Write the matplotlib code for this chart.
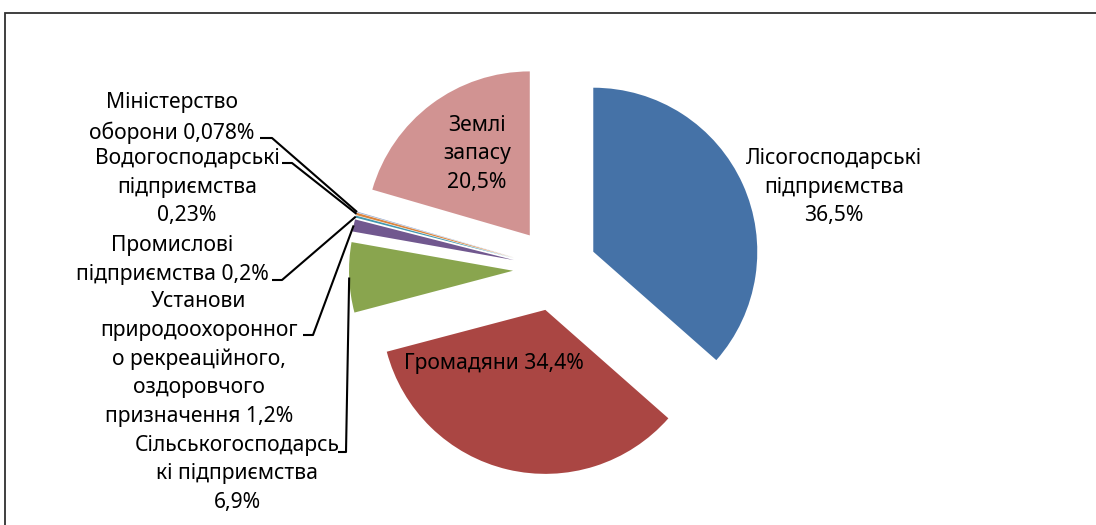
import numpy as np
import matplotlib
matplotlib.use("Agg")
import matplotlib.pyplot as plt
from matplotlib.patches import Rectangle

plt.rcParams['font.family'] = ['Noto Sans', 'DejaVu Sans']

# data
categories = ['Лісогосподарські\nпідприємства', 'Громадяни', 'Сільськогосподарсь\nкі підприємства',
              'Установи\nприродоохоронног\nо рекреаційного,\nоздоровчого\nпризначення',
              'Промислові\nпідприємства', 'Водогосподарські\nпідприємства',
              'Міністерство\nоборони', 'Землі\nзапасу']
shares = [36.5, 34.4, 6.9, 1.2, 0.2, 0.23, 0.078, 20.5]
share_text = ['36,5%', '34,4%', '6,9%', '1,2%', '0,2%', '0,23%', '0,078%', '20,5%']
colors = ['#4572A7', '#AA4643', '#89A54E', '#71588F', '#4198AF', '#DB843D', '#93A9CF', '#D19392']

# label text as shown on the chart
label_text = [
    'Лісогосподарські\nпідприємства\n36,5%',
    'Громадяни 34,4%',
    'Сільськогосподарсь\nкі підприємства\n6,9%',
    'Установи\nприродоохоронног\nо рекреаційного,\nоздоровчого\nпризначення 1,2%',
    'Промислові\nпідприємства 0,2%',
    'Водогосподарські\nпідприємства\n0,23%',
    'Міністерство\nоборони 0,078%',
    'Землі\nзапасу\n20,5%',
]

W, H = 1096, 525
fig = plt.figure(figsize=(W / 100, H / 100), dpi=100)
ax = fig.add_axes([0, 0, 1, 1])

# frame (chart area border, cut by the image edge)
fig.patches.append(Rectangle((5 / W, -0.1), 1.2, 1.1 - 13 / H, transform=fig.transFigure,
                             fill=False, edgecolor='#303030', lw=1.3))

cx, cy, R = 555, H - 269, 164
wedges, _ = ax.pie(shares, colors=colors, startangle=90, counterclock=False,
                   radius=R, center=(cx, cy), explode=[42] * len(shares),
                   wedgeprops=dict(linewidth=0), frame=True)
ax.set_xlim(0, W)
ax.set_ylim(0, H)
ax.set_aspect('equal')
ax.axis('off')

# label positions (pixel layout, y from top)
label_pos = [(834, 187), (494, 363), (237, 474), (199, 359), (172, 260), (187, 187), (172, 118), (477, 154)]
# leader lines: (start of short horizontal, end of horizontal) for outside-left labels
leaders = {
    2: [(338, 452), (346, 452)],
    3: [(303, 335), (313, 335)],
    4: [(272, 280), (282, 280)],
    5: [(282, 163), (292, 163)],
    6: [(260, 138), (272, 138)],
}

for i, txt in enumerate(label_text):
    px, py = label_pos[i]
    ax.text(px, H - py, txt, ha='center', va='center', fontsize=15.2,
            linespacing=1.47, color='black')

for i, pts in leaders.items():
    w = wedges[i]
    tm = np.deg2rad((w.theta1 + w.theta2) / 2)
    ex = w.center[0] + w.r * np.cos(tm)
    ey = w.center[1] + w.r * np.sin(tm)
    xs = [pts[0][0], pts[1][0], ex]
    ys = [H - pts[0][1], H - pts[1][1], ey]
    ax.plot(xs, ys, color='black', lw=1.5, solid_capstyle='butt')

fig.savefig('out.png', dpi=100)
